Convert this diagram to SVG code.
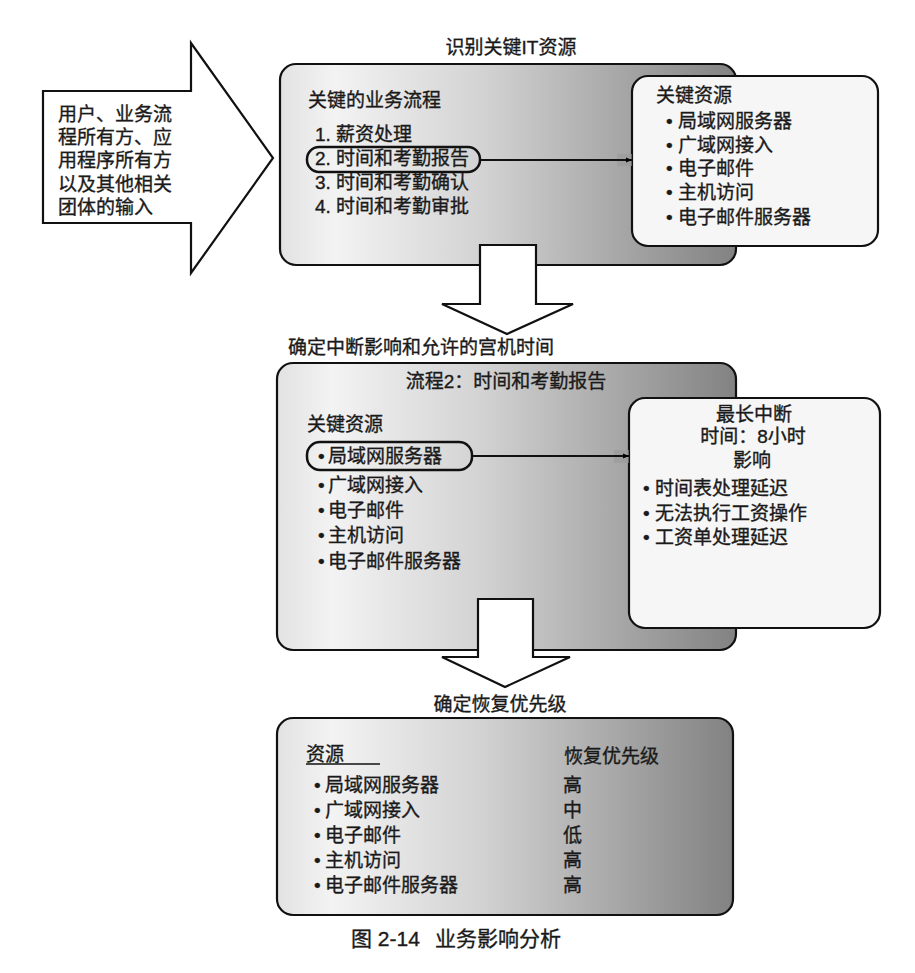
<svg xmlns="http://www.w3.org/2000/svg" width="915" height="973" viewBox="0 0 915 973">
<defs>
<linearGradient id="g" x1="0" y1="0" x2="1" y2="0">
<stop offset="0" stop-color="#e2e2e2"/>
<stop offset="0.12" stop-color="#f3f3f3"/>
<stop offset="0.45" stop-color="#d2d2d2"/>
<stop offset="1" stop-color="#828282"/>
</linearGradient>
<marker id="ah" viewBox="0 0 10 10" refX="10" refY="5" markerWidth="6" markerHeight="6" orient="auto" markerUnits="userSpaceOnUse">
<path d="M0,1 L10,5 L0,9 z" fill="#000"/>
</marker>
<style>
text{font-family:"Liberation Sans","Noto Sans CJK SC",sans-serif;font-size:19px;fill:#1a1a1a;stroke:#1a1a1a;stroke-width:0.35}
.big{fill:url(#g);stroke:#111;stroke-width:2.2}
.sub{fill:#f6f6f6;stroke:#111;stroke-width:2.2}
.arr{fill:#fff;stroke:#111;stroke-width:2.2;stroke-linejoin:miter}
.oval{fill:none;stroke:#111;stroke-width:2.5}
.ln{stroke:#111;stroke-width:2;fill:none}
.tab{fill:#999;opacity:0.6}
.mid{text-anchor:middle}
</style>
</defs>
<rect width="915" height="973" fill="#fff"/>

<g id="input-arrow">
<polygon class="arr" points="43,91 191,91 191,43 273,158 191,273 191,223 43,223"/>
<text x="58" y="121">用户、业务流</text>
<text x="58" y="144">程所有方、应</text>
<text x="58" y="167">用程序所有方</text>
<text x="58" y="191">以及其他相关</text>
<text x="58" y="214">团体的输入</text>
</g>

<g id="stage1">
<text class="mid" x="511" y="54">识别关键IT资源</text>
<rect class="big" x="280" y="64" width="456" height="201" rx="16"/>
<text x="308" y="107">关键的业务流程</text>
<text x="315" y="141">1. 薪资处理</text>
<text x="315" y="165">2. 时间和考勤报告</text>
<text x="315" y="189">3. 时间和考勤确认</text>
<text x="315" y="213">4. 时间和考勤审批</text>
<rect class="oval" x="307" y="147" width="173" height="25" rx="12"/>
</g>

<g id="resources1">
<rect class="sub" x="632" y="76" width="246" height="170" rx="16"/>
<text x="656" y="102">关键资源</text>
<text><tspan x="666" y="128">•</tspan><tspan x="678" y="128">局域网服务器</tspan></text>
<text><tspan x="666" y="152">•</tspan><tspan x="678" y="152">广域网接入</tspan></text>
<text><tspan x="666" y="175">•</tspan><tspan x="678" y="175">电子邮件</tspan></text>
<text><tspan x="666" y="199">•</tspan><tspan x="678" y="199">主机访问</tspan></text>
<text><tspan x="666" y="224">•</tspan><tspan x="678" y="224">电子邮件服务器</tspan></text>
</g>

<g id="stage2">
<text x="288" y="354">确定中断影响和允许的宫机时间</text>
<rect class="big" x="277" y="363" width="459" height="287" rx="16"/>
<text class="mid" x="506" y="388">流程2：时间和考勤报告</text>
<text x="307" y="431">关键资源</text>
<rect class="oval" x="307" y="442" width="165" height="28" rx="13"/>
<text><tspan x="318" y="463">•</tspan><tspan x="328" y="463">局域网服务器</tspan></text>
<text><tspan x="318" y="492">•</tspan><tspan x="328" y="492">广域网接入</tspan></text>
<text><tspan x="318" y="517">•</tspan><tspan x="328" y="517">电子邮件</tspan></text>
<text><tspan x="318" y="542">•</tspan><tspan x="328" y="542">主机访问</tspan></text>
<text><tspan x="318" y="568">•</tspan><tspan x="328" y="568">电子邮件服务器</tspan></text>
</g>

<g id="impact2">
<rect class="sub" x="629" y="398" width="251" height="230" rx="16"/>
<text class="mid" x="754" y="421">最长中断</text>
<text class="mid" x="753" y="443">时间：8小时</text>
<text class="mid" x="752" y="467">影响</text>
<text><tspan x="643" y="495">•</tspan><tspan x="655" y="495">时间表处理延迟</tspan></text>
<text><tspan x="643" y="520">•</tspan><tspan x="655" y="520">无法执行工资操作</tspan></text>
<text><tspan x="643" y="544">•</tspan><tspan x="655" y="544">工资单处理延迟</tspan></text>
</g>

<g id="stage3">
<text class="mid" x="500" y="711">确定恢复优先级</text>
<rect class="big" x="277" y="718" width="456" height="197" rx="16"/>
<text x="306" y="761">资源</text>
<line x1="306" y1="764" x2="380" y2="764" stroke="#111" stroke-width="1.5"/>
<text x="564" y="763">恢复优先级</text>
<text><tspan x="314" y="792">•</tspan><tspan x="325" y="792">局域网服务器</tspan></text>
<text><tspan x="314" y="817">•</tspan><tspan x="325" y="817">广域网接入</tspan></text>
<text><tspan x="314" y="842">•</tspan><tspan x="325" y="842">电子邮件</tspan></text>
<text><tspan x="314" y="867">•</tspan><tspan x="325" y="867">主机访问</tspan></text>
<text><tspan x="314" y="892">•</tspan><tspan x="325" y="892">电子邮件服务器</tspan></text>
<text x="563" y="792">高</text>
<text x="563" y="817">中</text>
<text x="563" y="842">低</text>
<text x="563" y="867">高</text>
<text x="563" y="892">高</text>
</g>

<g id="connectors">
<rect class="tab" x="617" y="154" width="15" height="12"/>
<line class="ln" x1="480" y1="160" x2="632" y2="160" marker-end="url(#ah)"/>
<rect class="tab" x="614" y="450" width="15" height="13"/>
<line class="ln" x1="472" y1="456" x2="629" y2="456" marker-end="url(#ah)"/>
<polygon class="arr" points="480,245 536,245 536,304 573,304 507,334 442,304 480,304"/>
<polygon class="arr" points="478,599 533,599 533,657 570,657 505,687 442,657 478,657"/>
</g>

<text style="font-size:21px"><tspan x="351" y="946">图 2-14</tspan><tspan x="435" y="946">业务影响分析</tspan></text>
</svg>
